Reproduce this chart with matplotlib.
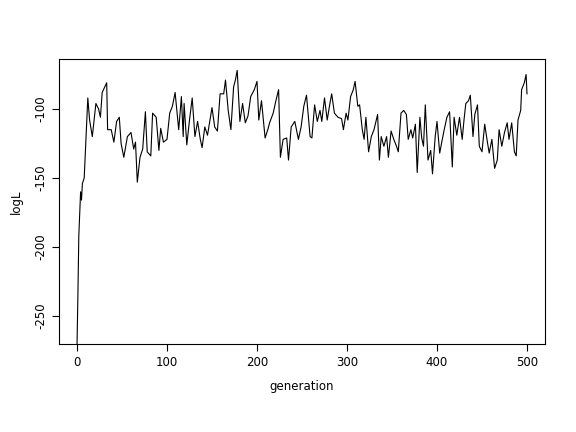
import matplotlib
matplotlib.use("Agg")
import matplotlib.pyplot as plt

generation = [0,1,2,3,4,5,6,8,9,10,12,14,17,21,24,26,28,33,34,38,41,44,47,49,52,56,60,63,65,67,70,73,76,78,82,84,88,91,93,96,100,103,106,109,113,116,118,
 119,122,125,128,131,134,137,139,142,145,150,153,156,159,163,165,168,171,174,176,178,181,184,187,190,193,197,200,202,205,209,212,214,218,221,224,226,229,233,235,238,242,246,
 249,252,255,259,261,264,267,270,272,275,278,281,283,286,290,294,296,299,301,304,307,309,312,314,317,319,321,324,327,330,334,336,338,341,344,346,349,352,355,357,360,363,366,368,371,373,376,378,381,383,
 385,387,390,393,395,398,400,403,405,408,411,414,417,419,422,425,428,430,432,435,437,440,442,445,447,450,453,456,458,461,464,467,469,472,475,478,480,483,486,488,490,493,494,497,499,500]
logL = [-272,-235,-192,-175,-160,-166,-154,-150,-135,-121,-92,-108,-120,-96,-100,-106,-88,-81,-115,-115,-124,-109,-106,-125,-135,-120,-117,-129,-124,-153,-135,-129,-102,-131,-134,-103,-106,-130,-114,-124,-122,-103,-98,-88,-115,-91,-120,
 -96,-126,-108,-92,-120,-109,-122,-128,-113,-119,-99,-113,-116,-89,-89,-79,-101,-115,-84,-79,-72,-109,-96,-110,-105,-91,-86,-80,-108,-94,-121,-115,-110,-103,-94,-86,-135,-122,-121,-137,-113,-109,-122,
 -113,-98,-90,-120,-121,-97,-109,-101,-109,-92,-108,-96,-89,-103,-106,-107,-115,-103,-108,-91,-86,-80,-98,-97,-115,-122,-106,-131,-120,-115,-104,-137,-120,-127,-120,-135,-116,-122,-127,-131,-103,-101,-104,-122,-115,-121,-111,-146,-106,-121,
 -127,-97,-137,-130,-147,-120,-109,-132,-125,-115,-106,-102,-142,-106,-119,-106,-122,-108,-96,-94,-90,-120,-104,-97,-127,-131,-111,-124,-132,-122,-143,-137,-115,-127,-117,-110,-122,-110,-131,-134,-108,-101,-86,-81,-75,-89]

fig = plt.figure(figsize=(5.76, 4.32), dpi=100)
ax = fig.add_axes([59/576, 1-344/432, 486/576, 285/432])
ax.plot(generation, logL, color="black", lw=0.8)
ax.set_xlim(-20, 520)
ax.set_ylim(-100 - (344-109)/1.38, -100 + (109-59)/1.38)
ax.set_xticks([0,100,200,300,400,500])
ax.set_yticks([-250,-200,-150,-100])
ax.set_yticklabels(["-250","-200","-150","-100"], rotation=90, va="center")
ax.tick_params(labelsize=8.5, direction="out", length=5)
ax.set_xlabel("generation", fontsize=8.5, labelpad=8)
ax.set_ylabel("logL", fontsize=8.5, labelpad=8)
fig.savefig("out.png", dpi=100)
